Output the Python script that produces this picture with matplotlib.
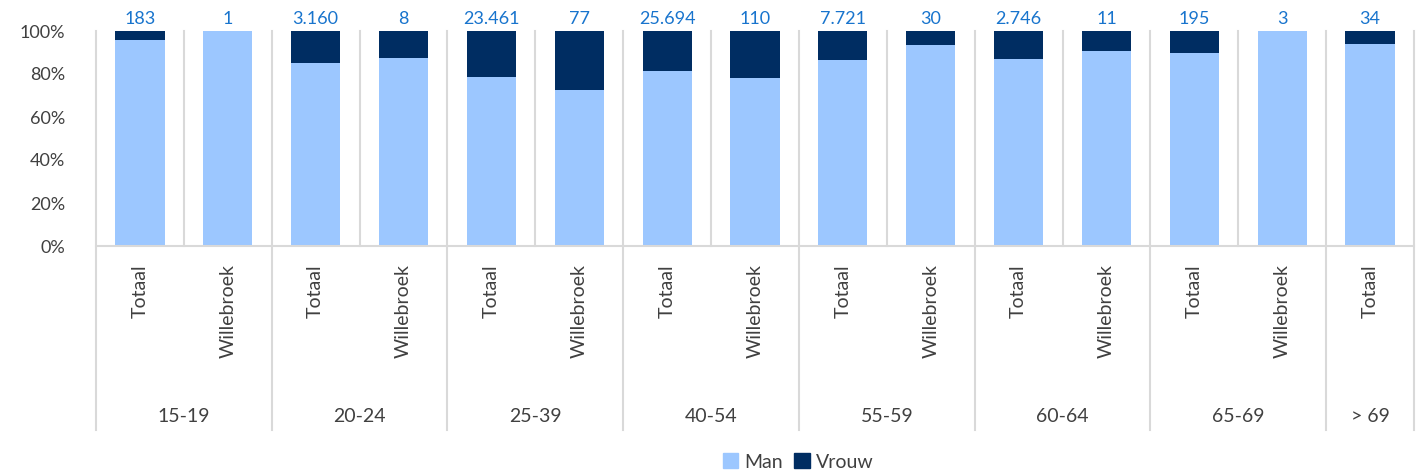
import matplotlib
matplotlib.use("Agg")
import matplotlib.pyplot as plt
from matplotlib.lines import Line2D
from matplotlib.patches import Patch

plt.rcParams['font.family'] = ['Lato', 'DejaVu Sans']

# data
groups = ["15-19", "20-24", "25-39", "40-54", "55-59", "60-64", "65-69", "> 69"]
group_sizes = [2, 2, 2, 2, 2, 2, 2, 1]
cats = ["Totaal", "Willebroek"] * 7 + ["Totaal"]
man_pct = [95.6, 100.0, 85.0, 87.5, 78.5, 72.7, 81.3, 78.2, 86.7, 93.3, 87.1, 90.9, 89.9, 100.0, 94.1]
totals = [183, 1, 3160, 8, 23461, 77, 25694, 110, 7721, 30, 2746, 11, 195, 3, 34]
vrouw_pct = [100.0 - m for m in man_pct]

C_MAN = "#9CC7FF"
C_VROUW = "#002D62"
C_GRID = "#D9D9D9"
C_TXT = "#404040"
C_VAL = "#1874CD"

W, H = 1421, 475
PX = 72 / 100  # points per pixel
fig = plt.figure(figsize=(W / 100, H / 100), dpi=100)
ax = fig.add_axes([96 / W, 1 - 246 / H, (1414 - 96) / W, (246 - 31) / H])

n = len(cats)
x = [i + 0.5 for i in range(n)]
ax.bar(x, [m / 100 for m in man_pct], width=0.56, color=C_MAN, zorder=2)
ax.bar(x, [v / 100 for v in vrouw_pct], bottom=[m / 100 for m in man_pct], width=0.56,
       color=C_VROUW, zorder=2)

ax.set_xlim(0, n)
ax.set_ylim(0, 1)
ax.set_yticks([0, 0.2, 0.4, 0.6, 0.8, 1.0])
ax.set_yticklabels(["0%", "20%", "40%", "60%", "80%", "100%"])
ax.tick_params(axis='y', length=0, labelsize=13, labelcolor=C_TXT, pad=22)
ax.set_xticks([])
for s in ("top", "right", "left"):
    ax.spines[s].set_visible(False)
ax.spines["bottom"].set_color(C_GRID)
ax.spines["bottom"].set_linewidth(1.5)

# separators: thin ones inside plot, group ones down through label area
bounds = [0]
for g in group_sizes:
    bounds.append(bounds[-1] + g)
for i in range(n + 1):
    ylo = -0.856 if i in bounds else 0
    ax.add_line(Line2D([i, i], [ylo, 1], color=C_GRID, lw=1.5, clip_on=False, zorder=1))

# value labels
for xi, t in zip(x, totals):
    ax.annotate(f"{t:,}".replace(",", "."), (xi, 1), xycoords=('data', 'axes fraction'),
                xytext=(0, 3), textcoords='offset points', ha='center', va='bottom',
                fontsize=13, color=C_VAL)

# category labels
for xi, c in zip(x, cats):
    ax.annotate(c, (xi, 0), xycoords=('data', 'axes fraction'), xytext=(0, -18 * PX),
                textcoords='offset points', ha='center', va='top', rotation=90,
                fontsize=14, color=C_TXT)

# group labels
for g, a, b in zip(groups, bounds[:-1], bounds[1:]):
    ax.annotate(g, ((a + b) / 2, 0), xycoords=('data', 'axes fraction'), xytext=(0, -171 * PX),
                textcoords='offset points', ha='center', va='center',
                fontsize=14, color=C_TXT)

handles = [Patch(color=C_MAN, label="Man"), Patch(color=C_VROUW, label="Vrouw")]
fig.legend(handles=handles, loc='center', bbox_to_anchor=(798 / W, 1 - 462 / H), ncol=2,
           frameon=False, fontsize=14, handlelength=0.8, handleheight=0.8,
           handletextpad=0.3, columnspacing=0.6, labelcolor=C_TXT)

fig.savefig("out.png", dpi=100)
